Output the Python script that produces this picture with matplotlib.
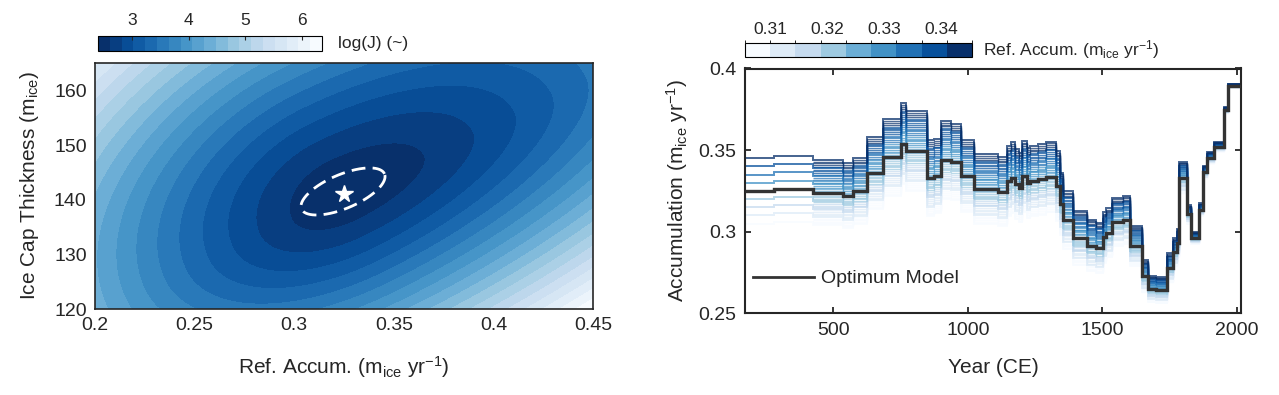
import numpy as np
import matplotlib
matplotlib.use('Agg')
import matplotlib.pyplot as plt
from matplotlib.colors import ListedColormap, BoundaryNorm
from matplotlib.cm import ScalarMappable
from matplotlib.lines import Line2D

plt.rcParams['font.family'] = ['Liberation Sans', 'DejaVu Sans']
plt.rcParams['mathtext.default'] = 'regular'

# --- left panel: misfit surface ---
opt_acc = 0.325          # optimum reference accumulation
opt_thick = 141.0        # optimum ice cap thickness
logj_min, logj_max = 2.4, 6.35
band_tilt = 26           # deg, tilt of the misfit valley
band_axes_up = (89, 37)      # semi-axes (px) of first contour, up-right / up-left side
band_axes_down = (58, 29)    # semi-axes (px) of first contour, down-left / down-right side

# --- right panel: optimum model, step starts (yr CE) and accumulation ---
step_years = [172, 280, 426, 537, 574, 625, 684, 751, 772, 850,
              875, 900, 937, 974, 1022, 1113, 1144, 1160, 1175, 1191,
              1203, 1220, 1230, 1261, 1292, 1329, 1342, 1354, 1391, 1441,
              1478, 1503, 1512, 1535, 1578, 1603, 1646, 1671, 1700, 1739,
              1764, 1779, 1786, 1813, 1828, 1860, 1872, 1887, 1914, 1953,
              1967, 2015]
opt_accum = [0.325, 0.3263, 0.324, 0.322, 0.3249, 0.336, 0.3456, 0.354, 0.3493, 0.3327,
             0.334, 0.344, 0.3428, 0.334, 0.3262, 0.3245, 0.331, 0.3331, 0.329, 0.327,
             0.334, 0.3296, 0.331, 0.332, 0.3335, 0.328, 0.317, 0.307, 0.2962, 0.2915,
             0.2899, 0.2965, 0.2993, 0.3058, 0.3071, 0.2911, 0.2726, 0.2648, 0.2642, 0.2778,
             0.2874, 0.293, 0.3331, 0.3106, 0.2962, 0.3136, 0.3365, 0.3453, 0.352, 0.3745,
             0.3894]
# relative spread of the ensemble (top line vs optimum) per step
spread = [0.0615, 0.0615, 0.0615, 0.0615, 0.0615, 0.065, 0.068, 0.07, 0.07, 0.07,
          0.068, 0.07, 0.068, 0.066, 0.065, 0.065, 0.065, 0.065, 0.065, 0.065,
          0.065, 0.065, 0.065, 0.065, 0.065, 0.065, 0.06, 0.058, 0.056, 0.054,
          0.053, 0.052, 0.05, 0.048, 0.048, 0.042, 0.036, 0.03, 0.03, 0.032,
          0.03, 0.03, 0.029, 0.018, 0.012, 0.012, 0.012, 0.01, 0.008, 0.005,
          0.003]
ref_accums = np.round(np.arange(0.305, 0.3451, 0.001), 3)
ref_bounds = np.linspace(0.3055, 0.3455, 10)
ref_ticks = [0.31, 0.32, 0.33, 0.34]

fig = plt.figure(figsize=(12.79, 3.95), dpi=100)

# ===== left panel =====
ax1 = fig.add_axes([95/1279, 1-309/395, 498/1279, 246/395])
acc = np.linspace(0.2, 0.45, 301)
thick = np.linspace(120, 165, 271)
A, T = np.meshgrid(acc, thick)
px = (A - opt_acc) * 497 / 0.25
py = (T - opt_thick) * 246 / 45
th = np.deg2rad(band_tilt)
p = px*np.cos(th) + py*np.sin(th)
q = -px*np.sin(th) + py*np.cos(th)
a = np.where(p > 0, band_axes_up[0], band_axes_down[0])
b = np.where(q > 0, band_axes_up[1], band_axes_down[1])
Q = (p/a)**2 + (q/b)**2
logJ = np.minimum(logj_min + 0.208*Q**0.728, logj_max - 1e-3)

levels = np.linspace(logj_min, logj_max, 20)
cmap19 = ListedColormap(plt.get_cmap('Blues_r')(np.linspace(0, 1, 19)))
cf = ax1.contourf(A, T, logJ, levels=levels, cmap=cmap19)

# uncertainty ellipse + optimum
t = np.linspace(0, 2*np.pi, 300)
e_ang = np.deg2rad(23)
ex = 45*np.cos(t)*np.cos(e_ang) - 17*np.sin(t)*np.sin(e_ang)
ey = 45*np.cos(t)*np.sin(e_ang) + 17*np.sin(t)*np.cos(e_ang)
ax1.plot(0.3245 + ex*0.25/497, 141.5 + ey*45/246, color='white', lw=2,
         ls=(0, (5, 2.6)))
ax1.plot(opt_acc, opt_thick, marker='*', color='white', ms=13, mec='white')

ax1.set_xlim(0.2, 0.45)
ax1.set_ylim(120, 165)
ax1.set_xticks([0.2, 0.25, 0.3, 0.35, 0.4, 0.45])
ax1.set_xticklabels(['0.2', '0.25', '0.3', '0.35', '0.4', '0.45'])
ax1.set_yticks([120, 130, 140, 150, 160])
ax1.tick_params(length=0, labelsize=14, pad=6, colors='#262626')
ax1.set_xlabel(r'Ref. Accum. (m$_{ice}$ yr$^{-1}$)', fontsize=15, color='#262626', labelpad=14)
ax1.set_ylabel(r'Ice Cap Thickness (m$_{ice}$)', fontsize=15, color='#262626', labelpad=9)
for s in ax1.spines.values():
    s.set_linewidth(1.2)
    s.set_color('#262626')

cax1 = fig.add_axes([98/1279, 1-51/395, 224/1279, 15/395])
cb1 = fig.colorbar(cf, cax=cax1, orientation='horizontal', ticks=[3, 4, 5, 6])
cax1.xaxis.set_ticks_position('top')
cax1.tick_params(direction='in', length=3, labelsize=12.5, pad=6, colors='#262626')
cb1.outline.set_linewidth(0.8)
cax1.text(1.07, 0.5, 'log(J) (~)', transform=cax1.transAxes, fontsize=12.5,
          va='center', ha='left', color='#262626')

# ===== right panel =====
ax2 = fig.add_axes([745/1279, 1-313.3/395, 496/1279, 244.8/395])
blues9 = ListedColormap(['#f7fbff', '#deebf7', '#c6dbef', '#9ecae1', '#6baed6',
                         '#4292c6', '#2171b5', '#08519c', '#08306b'])
norm9 = BoundaryNorm(ref_bounds, 9)
edges = np.array(step_years, dtype=float)
base = np.array(opt_accum)
sp = np.array(spread)
for r in ref_accums:
    vals = base * (1 + sp*(r - 0.325)/0.02)
    col = blues9(norm9(np.clip(r, 0.306, 0.345)))
    if abs(r*200 - round(r*200)) < 1e-6:
        ax2.stairs(vals, edges, baseline=None, color=col, lw=1.4, alpha=0.75)
    else:
        ax2.stairs(vals[2:], edges[2:], baseline=None, color=col, lw=1.0, alpha=0.7)
ax2.stairs(base, edges, baseline=None, color='#333333', lw=2.4, zorder=5)

ax2.set_xlim(172, 2015)
ax2.set_ylim(0.25, 0.4)
ax2.set_xticks([500, 1000, 1500, 2000])
ax2.set_yticks([0.25, 0.3, 0.35, 0.4])
ax2.set_yticklabels(['0.25', '0.3', '0.35', '0.4'])
ax2.tick_params(direction='in', length=4.5, width=1.3, labelsize=14, pad=6,
                top=True, right=True, colors='#262626')
ax2.set_xlabel('Year (CE)', fontsize=15, color='#262626', labelpad=14)
ax2.set_ylabel(r'Accumulation (m$_{ice}$ yr$^{-1}$)', fontsize=15, color='#262626', labelpad=6)
for s in ax2.spines.values():
    s.set_linewidth(1.5)
    s.set_color('#262626')
h = Line2D([], [], color='#333333', lw=2.0)
ax2.legend([h], ['Optimum Model'], loc='center left', bbox_to_anchor=(0.017, 0.142),
           frameon=False, borderpad=0, borderaxespad=0, handlelength=3.1,
           handletextpad=0.35, fontsize=14, labelcolor='#262626')

cax2 = fig.add_axes([745/1279, 1-57/395, 227/1279, 14/395])
cb2 = fig.colorbar(ScalarMappable(norm=norm9, cmap=blues9), cax=cax2,
                   orientation='horizontal', ticks=ref_ticks)
cax2.xaxis.set_ticks_position('top')
cax2.set_xticklabels(['0.31', '0.32', '0.33', '0.34'])
cax2.tick_params(direction='in', length=0, labelsize=12.5, pad=4, colors='#262626')
cb2.outline.set_linewidth(0.8)
cax2.text(1.05, 0.5, r'Ref. Accum. (m$_{ice}$ yr$^{-1}$)', transform=cax2.transAxes,
          fontsize=12.5, va='center', ha='left', color='#262626')

fig.savefig('out.png', dpi=100)
